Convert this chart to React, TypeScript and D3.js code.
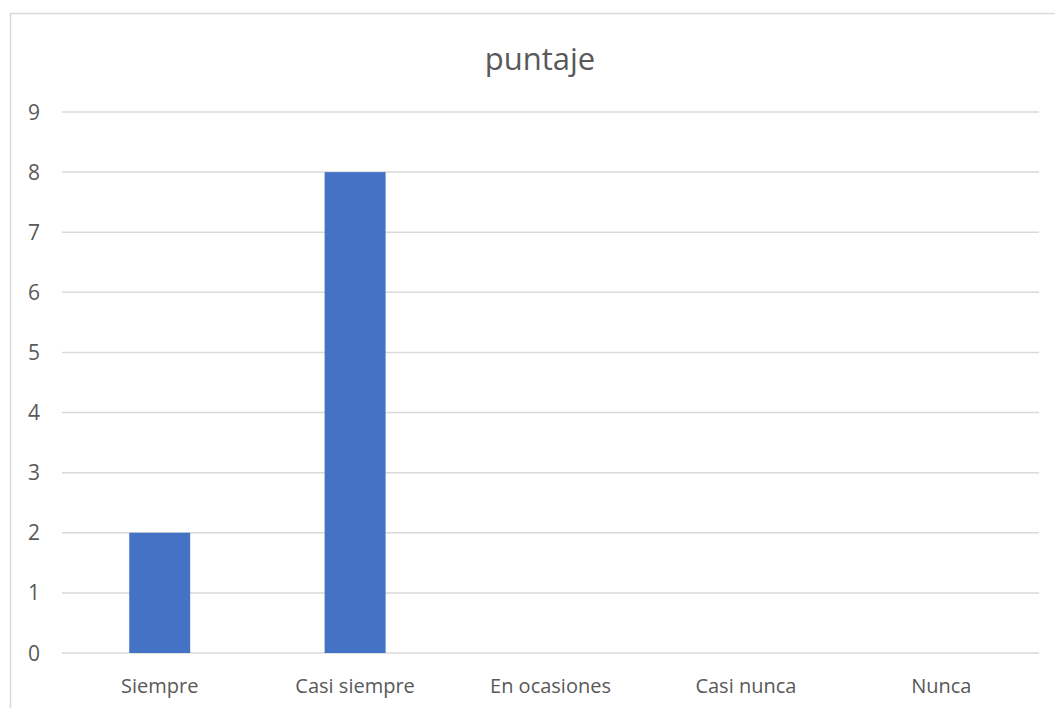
import React, { useEffect, useRef } from 'react';
import * as d3 from 'd3';

const categories = ['Siempre', 'Casi siempre', 'En ocasiones', 'Casi nunca', 'Nunca'];
const puntaje = [2, 8, 0, 0, 0];
const yTicks = [0, 1, 2, 3, 4, 5, 6, 7, 8, 9];
const title = 'puntaje';

const App: React.FC = () => {
  const svgRef = useRef<SVGSVGElement>(null);

  useEffect(() => {
    if (!svgRef.current) return;
    const width = 1055;
    const height = 708;
    const plot = { left: 62, right: 1039, top: 112, bottom: 653 };
    const font = '"Open Sans", "Noto Sans", sans-serif';

    const svg = d3.select(svgRef.current);
    svg.selectAll('*').remove();

    // chart frame (runs off the right and bottom edges)
    svg.append('rect')
      .attr('x', 10.5)
      .attr('y', 13.5)
      .attr('width', 1058)
      .attr('height', 720)
      .attr('fill', '#ffffff')
      .attr('stroke', '#d9d9d9')
      .attr('stroke-width', 1.5);

    const x = d3.scaleBand<string>()
      .domain(categories)
      .range([plot.left, plot.right])
      .paddingInner(0.688)
      .paddingOuter(0.344);

    const y = d3.scaleLinear()
      .domain([0, 9])
      .range([plot.bottom, plot.top]);

    // Grid lines
    svg.append('g')
      .selectAll('line')
      .data(yTicks)
      .enter()
      .append('line')
      .attr('x1', plot.left)
      .attr('x2', plot.right)
      .attr('y1', d => y(d))
      .attr('y2', d => y(d))
      .attr('stroke', '#d9d9d9')
      .attr('stroke-width', 1.5);

    // Y tick labels
    svg.append('g')
      .selectAll('text')
      .data(yTicks)
      .enter()
      .append('text')
      .attr('x', 40)
      .attr('y', d => y(d))
      .attr('dy', '0.36em')
      .attr('text-anchor', 'end')
      .attr('font-family', font)
      .attr('font-size', 21)
      .attr('fill', '#595959')
      .text(d => String(d));

    // Bars
    svg.append('g')
      .selectAll('rect')
      .data(puntaje)
      .enter()
      .append('rect')
      .attr('x', (d, i) => x(categories[i]) as number)
      .attr('y', d => y(d))
      .attr('width', x.bandwidth())
      .attr('height', d => y(0) - y(d))
      .attr('fill', '#4472c4');

    // Category labels
    svg.append('g')
      .selectAll('text')
      .data(categories)
      .enter()
      .append('text')
      .attr('x', d => (x(d) as number) + x.bandwidth() / 2)
      .attr('y', 693)
      .attr('text-anchor', 'middle')
      .attr('font-family', font)
      .attr('font-size', 20)
      .attr('fill', '#595959')
      .text(d => d);

    // Title
    svg.append('text')
      .attr('x', 540)
      .attr('y', 70)
      .attr('text-anchor', 'middle')
      .attr('font-family', font)
      .attr('font-size', 31)
      .attr('fill', '#595959')
      .text(title);

    svg.attr('width', width).attr('height', height);
  }, []);

  return (
    <svg
      ref={svgRef}
      width={1055}
      height={708}
      style={{ position: 'absolute', left: 0, top: 0, background: '#ffffff' }}
    />
  );
};

export default App;
